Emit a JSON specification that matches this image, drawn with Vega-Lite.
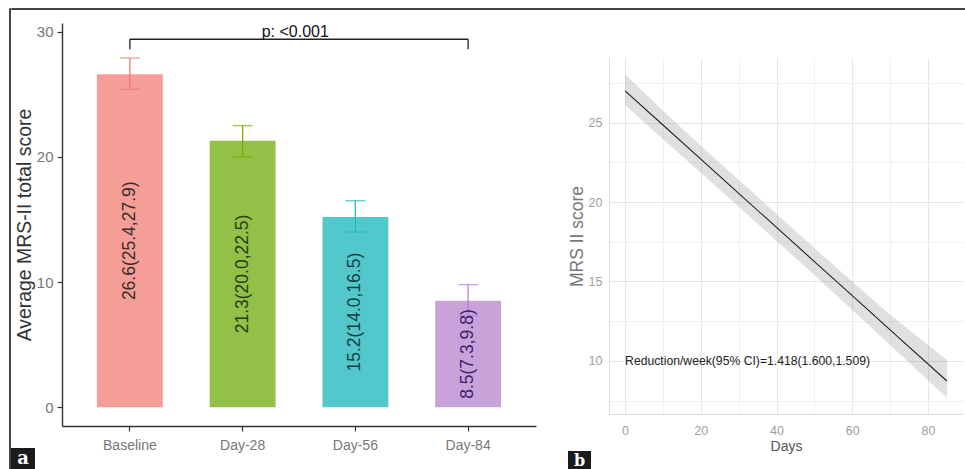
{
  "$schema": "https://vega.github.io/schema/vega-lite/v6.json",
  "padding": {"left": 8, "top": 7, "right": 0, "bottom": 0},
  "config": {"view": {"stroke": null}, "font": "Liberation Sans"},
  "spacing": -1,
  "hconcat": [
    {
      "width": 1,
      "height": 462,
      "view": {"stroke": "#444444", "strokeWidth": 1, "fill": null},
      "data": {"values": [{"t": ""}]},
      "mark": {"type": "text", "fontSize": 0},
      "encoding": {"text": {"field": "t"}}
    },
    {
      "spacing": 13,
      "vconcat": [
        {
          "width": 957,
          "height": 1,
          "view": {"stroke": "#444444", "strokeWidth": 1, "fill": null},
          "data": {"values": [{"t": ""}]},
          "mark": {"type": "text", "fontSize": 0},
          "encoding": {"text": {"field": "t"}}
        },
        {
          "spacing": -21,
          "hconcat": [
            {
              "spacing": 0,
              "vconcat": [
                {
                  "width": 24,
                  "height": 425,
                  "data": {"values": [{"t": ""}]},
                  "mark": {"type": "text", "fontSize": 0},
                  "encoding": {"text": {"field": "t"}}
                },
                {
                  "width": 24,
                  "height": 21,
                  "view": {"fill": "#1b1b1b", "stroke": null},
                  "data": {"values": [{"label": "a"}]},
                  "mark": {"type": "text", "color": "white", "font": "DejaVu Serif", "fontWeight": "bold", "fontSize": 18, "align": "center", "baseline": "middle"},
                  "encoding": {"text": {"field": "label"}}
                }
              ]
            },
            {
              "spacing": 32,
              "hconcat": [
                {
                  "width": 474,
                  "height": 403,
                  "data": {"values": [
                    {"visit": "Baseline", "mean": 26.6, "lo": 25.4, "hi": 27.9, "label": "26.6(25.4,27.9)"},
                    {"visit": "Day-28", "mean": 21.3, "lo": 20.0, "hi": 22.5, "label": "21.3(20.0,22.5)"},
                    {"visit": "Day-56", "mean": 15.2, "lo": 14.0, "hi": 16.5, "label": "15.2(14.0,16.5)"},
                    {"visit": "Day-84", "mean": 8.5, "lo": 7.3, "hi": 9.8, "label": "8.5(7.3,9.8)"}
                  ]},
                  "transform": [{"calculate": "datum.mean / 2", "as": "mid"}],
                  "encoding": {
                    "x": {
                      "field": "visit", "type": "nominal",
                      "scale": {"domain": ["Baseline", "Day-28", "Day-56", "Day-84"], "paddingInner": 0.416, "paddingOuter": 0.31},
                      "axis": {"title": null, "labelAngle": 0, "tickSize": 5, "tickColor": "#333333", "tickWidth": 1.2, "domainColor": "#333333", "domainWidth": 1.4, "labelColor": "#777777", "labelFontSize": 14, "labelPadding": 7}
                    }
                  },
                  "layer": [
                    {
                      "mark": {"type": "bar"},
                      "encoding": {
                        "y": {
                          "field": "mean", "type": "quantitative",
                          "scale": {"domain": [-1.5, 30.7], "nice": false, "zero": false},
                          "axis": {"values": [0, 10, 20, 30], "grid": false, "tickSize": 5, "tickColor": "#333333", "tickWidth": 1.2, "domainColor": "#333333", "domainWidth": 1.4, "labelColor": "#777777", "labelFontSize": 15, "labelPadding": 4, "titleFontSize": 19.4, "titleFontWeight": "normal", "titleColor": "#333333", "titlePadding": 2},
                          "title": "Average MRS-II total score"
                        },
                        "y2": {"datum": 0},
                        "color": {"field": "visit", "type": "nominal", "legend": null,
                          "scale": {"domain": ["Baseline", "Day-28", "Day-56", "Day-84"], "range": ["#f59e98", "#93c047", "#52c7cc", "#c9a2da"]}}
                      }
                    },
                    {
                      "mark": {"type": "rule", "strokeWidth": 1.3},
                      "encoding": {
                        "y": {"field": "lo", "type": "quantitative", "title": "Average MRS-II total score"},
                        "y2": {"field": "hi"},
                        "color": {"field": "visit", "type": "nominal", "legend": null,
                          "scale": {"domain": ["Baseline", "Day-28", "Day-56", "Day-84"], "range": ["#f07c74", "#7cae00", "#1fbcc1", "#b57fe0"]}}
                      }
                    },
                    {
                      "mark": {"type": "tick", "size": 20, "thickness": 1.4, "orient": "horizontal"},
                      "encoding": {
                        "y": {"field": "lo", "type": "quantitative", "title": "Average MRS-II total score"},
                        "color": {"field": "visit", "type": "nominal", "legend": null,
                          "scale": {"domain": ["Baseline", "Day-28", "Day-56", "Day-84"], "range": ["#f07c74", "#7cae00", "#1fbcc1", "#b57fe0"]}}
                      }
                    },
                    {
                      "mark": {"type": "tick", "size": 20, "thickness": 1.4, "orient": "horizontal"},
                      "encoding": {
                        "y": {"field": "hi", "type": "quantitative", "title": "Average MRS-II total score"},
                        "color": {"field": "visit", "type": "nominal", "legend": null,
                          "scale": {"domain": ["Baseline", "Day-28", "Day-56", "Day-84"], "range": ["#f07c74", "#7cae00", "#1fbcc1", "#b57fe0"]}}
                      }
                    },
                    {
                      "mark": {"type": "text", "angle": 270, "align": "center", "baseline": "middle", "fontSize": 17.5},
                      "encoding": {
                        "y": {"field": "mid", "type": "quantitative", "title": "Average MRS-II total score"},
                        "text": {"field": "label"},
                        "color": {"field": "visit", "type": "nominal", "legend": null,
                          "scale": {"domain": ["Baseline", "Day-28", "Day-56", "Day-84"], "range": ["#3b2d2b", "#2c3a14", "#123f42", "#3d2370"]}}
                      }
                    },
                    {
                      "data": {"values": [{"visit": "Baseline", "visit2": "Day-84", "y": 29.4}]},
                      "mark": {"type": "rule", "color": "#222222", "strokeWidth": 1.3},
                      "encoding": {
                        "x2": {"field": "visit2"},
                        "y": {"field": "y", "type": "quantitative", "title": "Average MRS-II total score"}
                      }
                    },
                    {
                      "data": {"values": [{"visit": "Baseline", "y": 28.6, "yb": 29.4}, {"visit": "Day-84", "y": 28.6, "yb": 29.4}]},
                      "mark": {"type": "rule", "color": "#222222", "strokeWidth": 1.3},
                      "encoding": {
                        "y": {"field": "y", "type": "quantitative", "title": "Average MRS-II total score"},
                        "y2": {"field": "yb"}
                      }
                    },
                    {
                      "data": {"values": [{"visit": "Day-28", "y": 29.4, "t": "p: <0.001"}]},
                      "mark": {"type": "text", "align": "center", "baseline": "bottom", "fontSize": 16, "color": "#111111", "dy": 1},
                      "encoding": {
                        "x": {"field": "visit", "type": "nominal", "bandPosition": 1.3},
                        "y": {"field": "y", "type": "quantitative", "title": "Average MRS-II total score"},
                        "text": {"field": "t"}
                      }
                    }
                  ],
                  "resolve": {"scale": {"color": "independent"}}
                },
                {
                  "spacing": -23,
                  "hconcat": [
                    {
                      "spacing": 0,
                      "vconcat": [
                        {
                          "width": 23,
                          "height": 428,
                          "data": {"values": [{"t": ""}]},
                          "mark": {"type": "text", "fontSize": 0},
                          "encoding": {"text": {"field": "t"}}
                        },
                        {
                          "width": 23,
                          "height": 19,
                          "view": {"fill": "#1b1b1b", "stroke": null},
                          "data": {"values": [{"label": "b"}]},
                          "mark": {"type": "text", "color": "white", "font": "DejaVu Serif", "fontWeight": "bold", "fontSize": 16, "align": "center", "baseline": "middle"},
                          "encoding": {"text": {"field": "label"}}
                        }
                      ]
                    },
                    {
                      "spacing": 0,
                      "vconcat": [
                        {
                          "width": 1,
                          "height": 35,
                          "data": {"values": [{"t": ""}]},
                          "mark": {"type": "text", "fontSize": 0},
                          "encoding": {"text": {"field": "t"}}
                        },
                        {
                          "width": 354,
                          "height": 356,
                          "layer": [
                            {
                              "data": {"values": [
                                {"day": 0, "fit": 27.0, "lo": 26.1, "hi": 28.05},
                                {"day": 10, "fit": 24.85, "lo": 23.95, "hi": 25.75},
                                {"day": 20, "fit": 22.7, "lo": 21.85, "hi": 23.55},
                                {"day": 30, "fit": 20.55, "lo": 19.7, "hi": 21.4},
                                {"day": 40, "fit": 18.4, "lo": 17.55, "hi": 19.25},
                                {"day": 50, "fit": 16.25, "lo": 15.4, "hi": 17.1},
                                {"day": 60, "fit": 14.1, "lo": 13.2, "hi": 15.0},
                                {"day": 70, "fit": 11.95, "lo": 11.0, "hi": 12.9},
                                {"day": 85, "fit": 8.73, "lo": 7.67, "hi": 10.05}
                              ]},
                              "layer": [
                                {
                                  "mark": {"type": "area", "color": "#999999", "opacity": 0.3},
                                  "encoding": {
                                    "x": {"field": "day", "type": "quantitative",
                                      "scale": {"domain": [-4.25, 89.25], "nice": false, "zero": false},
                                      "axis": {"values": [0, 10, 20, 30, 40, 50, 60, 70, 80], "labelExpr": "datum.value % 20 === 0 ? datum.label : ''", "ticks": false, "grid": true,
                                        "gridColor": {"condition": {"test": "datum.value % 20 === 0", "value": "#e6e6e6"}, "value": "#f1f1f1"},
                                        "domainColor": "#dddddd", "labelColor": "#a0a0a0", "labelFontSize": 12.5, "labelPadding": 10,
                                        "titleFontSize": 14, "titleFontWeight": "normal", "titleColor": "#555555", "titlePadding": 3},
                                      "title": "Days"},
                                    "y": {"field": "lo", "type": "quantitative",
                                      "scale": {"domain": [6.65, 29.07], "nice": false, "zero": false},
                                      "axis": {"values": [7.5, 10, 12.5, 15, 17.5, 20, 22.5, 25, 27.5], "labelExpr": "datum.value % 5 === 0 ? datum.label : ''", "ticks": false, "grid": true,
                                        "gridColor": {"condition": {"test": "datum.value % 5 === 0", "value": "#e6e6e6"}, "value": "#f1f1f1"},
                                        "domainColor": "#dddddd", "labelColor": "#a0a0a0", "labelFontSize": 12.5, "labelPadding": 7,
                                        "titleFontSize": 17.5, "titleFontWeight": "normal", "titleColor": "#777777", "titlePadding": 2},
                                      "title": "MRS II score"},
                                    "y2": {"field": "hi"}
                                  }
                                },
                                {
                                  "mark": {"type": "line", "color": "#222222", "strokeWidth": 1.1},
                                  "encoding": {
                                    "x": {"field": "day", "type": "quantitative", "title": "Days"},
                                    "y": {"field": "fit", "type": "quantitative", "title": "MRS II score"}
                                  }
                                }
                              ]
                            },
                            {
                              "data": {"values": [{"day": 0, "y": 10, "t": "Reduction/week(95% CI)=1.418(1.600,1.509)"}]},
                              "mark": {"type": "text", "align": "left", "baseline": "middle", "fontSize": 12.2, "color": "#222222"},
                              "encoding": {
                                "x": {"field": "day", "type": "quantitative", "title": "Days"},
                                "y": {"field": "y", "type": "quantitative", "title": "MRS II score"},
                                "text": {"field": "t"}
                              }
                            }
                          ]
                        }
                      ]
                    }
                  ]
                }
              ]
            }
          ]
        }
      ]
    }
  ]
}
